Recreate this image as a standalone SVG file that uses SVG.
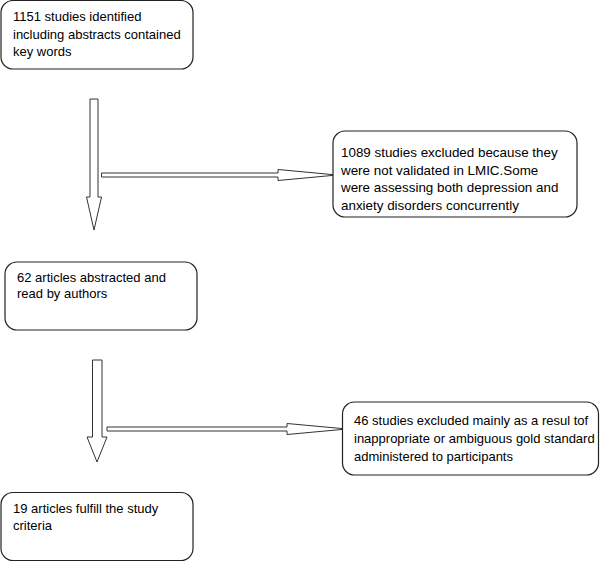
<svg xmlns="http://www.w3.org/2000/svg" width="600" height="562" viewBox="0 0 600 562">
<style>
.box{fill:#fff;stroke:#222;stroke-width:1.2}
.arr{fill:#fff;stroke:#333;stroke-width:1}
text{font-family:"Liberation Sans",Arial,sans-serif;font-size:13px;fill:#000}
.big{font-size:13.4px}
</style>
<rect width="600" height="562" fill="#fff"/>
<g id="connectors">
<polygon class="arr" points="90,99 98,99 98,197 101.5,197 94,230 86.5,197 90,197"/>
<polygon class="arr" points="101.5,173 278,173 278,169.5 337,175 278,180.5 278,177 101.5,177"/>
<polygon class="arr" points="92.5,360 102,360 102,437 107,437 97,462 87,437 92.5,437"/>
<polygon class="arr" points="107,427 287,427 287,423.5 347,429 287,434.5 287,431 107,431"/>
</g>
<g id="n1">
<rect class="box" x="1" y="0.5" width="192" height="68.5" rx="12"/>
<text x="13" y="21">1151 studies identified</text>
<text x="13" y="38.5">including abstracts contained</text>
<text x="13" y="56">key words</text>
</g>
<g id="n2">
<rect class="box" x="333" y="131" width="244" height="86" rx="12"/>
<text class="big" x="341" y="157">1089 studies excluded because they</text>
<text class="big" x="341" y="174.7">were not validated in LMIC.Some</text>
<text class="big" x="341" y="192.3">were assessing both depression and</text>
<text class="big" x="341" y="210">anxiety disorders concurrently</text>
</g>
<g id="n3">
<rect class="box" x="5" y="262" width="192" height="68" rx="12"/>
<text x="17" y="281.5">62 articles abstracted and</text>
<text x="17" y="297.5">read by authors</text>
</g>
<g id="n4">
<rect class="box" x="342.5" y="402" width="256" height="73" rx="12"/>
<text x="354" y="425">46 studies excluded mainly as a resul tof</text>
<text x="354" y="443">inappropriate or ambiguous gold standard</text>
<text x="354" y="461">administered to participants</text>
</g>
<g id="n5">
<rect class="box" x="1" y="492.5" width="192" height="68" rx="12"/>
<text x="13" y="513">19 articles fulfill the study</text>
<text x="13" y="529.5">criteria</text>
</g>
</svg>
